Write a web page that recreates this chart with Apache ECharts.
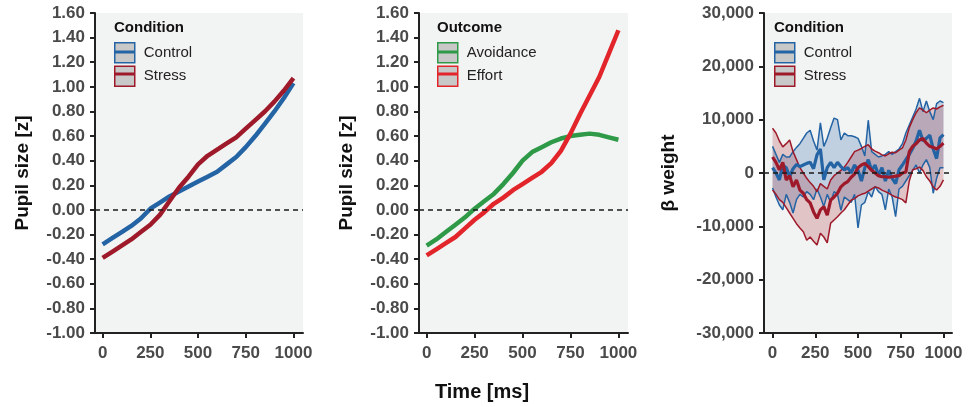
<!DOCTYPE html>
<html>
<head>
<meta charset="utf-8">
<script src="https://cdn.jsdelivr.net/npm/echarts@6/dist/echarts.min.js"></script>
<style>
  html, body { margin: 0; padding: 0; background: #fff; }
  #chart { width: 971px; height: 407px; }
</style>
</head>
<body>
<div id="chart"></div>
<script>
// 瞳孔数据（每 50 ms 一个点）
const timePupil = [0, 50, 100, 150, 200, 250, 300, 350, 400, 450, 500, 550, 600, 650, 700, 750, 800, 850, 900, 950, 1000];
const controlPupil = [-0.28, -0.23, -0.18, -0.13, -0.07, 0.01, 0.06, 0.11, 0.15, 0.19, 0.23, 0.27, 0.31, 0.37, 0.43, 0.51, 0.60, 0.70, 0.80, 0.91, 1.03];
const stressPupil = [-0.39, -0.34, -0.29, -0.24, -0.18, -0.12, -0.04, 0.07, 0.18, 0.27, 0.37, 0.44, 0.49, 0.54, 0.59, 0.66, 0.73, 0.80, 0.88, 0.97, 1.07];
const avoidancePupil = [-0.29, -0.24, -0.18, -0.12, -0.06, 0.01, 0.07, 0.13, 0.21, 0.30, 0.40, 0.47, 0.51, 0.55, 0.58, 0.60, 0.61, 0.62, 0.61, 0.59, 0.57];
const effortPupil = [-0.37, -0.32, -0.27, -0.22, -0.15, -0.08, -0.02, 0.05, 0.10, 0.16, 0.21, 0.26, 0.31, 0.38, 0.48, 0.62, 0.78, 0.93, 1.08, 1.27, 1.46];

// β 权重数据（每 20 ms 一个点）
const timeBeta = [0, 20, 40, 60, 80, 100, 120, 140, 160, 180, 200, 220, 240, 260, 280, 300, 320, 340, 360, 380,
  400, 420, 440, 460, 480, 500, 520, 540, 560, 580, 600, 620, 640, 660, 680, 700, 720, 740, 760, 780,
  800, 820, 840, 860, 880, 900, 920, 940, 960, 980, 1000];
const controlBeta = [1000, 0, -1300, 1500, 1000, -700, 800, 1600, 1200, 1500,
  1800, 2000, 800, 3400, 4500, -1300, 1000, 2000, 1000, 2000,
  1200, 600, 1000, 0, 1500, 500, -1500, 1000, 2500, 500,
  1500, -500, 1000, -1500, 500, -1000, -2000, 600, 1500, 2500,
  3500, 4600, 6000, 8000, 6000, 6500, 7100, 4500, 2700, 6600, 7200];
const controlBetaHi = [5000, 3500, 2000, 3500, 3000, 3000, 4000, 4800, 5500, 6500,
  7500, 8000, 6000, 4300, 9400, 5000, 6500, 8500, 10300, 10000,
  6200, 7500, 7000, 7000, 6800, 6500, 5000, 3200, 9900, 4000,
  3500, 3000, 3200, 3500, 4000, 3500, 4000, 4500, 5500, 7500,
  9000, 10500, 12000, 14000, 11500, 13500, 11500, 10000, 13000, 13500, 13200];
const controlBetaLo = [-2800, -4500, -6000, -6900, -4000, -5500, -7500, -5000, -4000, -4500,
  -3500, -4000, -5000, -3000, -4500, -6300, -4000, -5500, -3500, -4000,
  -7000, -4500, -5000, -5500, -4000, -10300, -6000, -5500, -3500, -4500,
  -2500, -3500, -4000, -6900, -3000, -4500, -8200, -3000, -2500, -1500,
  -500, 500, 1500, 0, 1500, 2500, 1000, -3800, -1000, 1000, 1000];
const stressBeta = [3000, 2000, 600, 2000, -1300, -500, -2600, -1300, -3200, -3800,
  -5000, -5600, -7300, -8500, -6900, -6300, -7900, -5100, -4500, -3800,
  -2600, -2000, -1600, -800, -200, 1000, 1500, 1800, 1200, 500,
  0, -500, -700, -700, -800, -700, -600, -500, 0, 200,
  4000, 5000, 5500, 6200, 6500, 5600, 5000, 4800, 4500, 5000, 5600];
const stressBetaHi = [8400, 7500, 6000, 4900, 5500, 6200, 4000, 2500, 1000, 0,
  -1000, -1800, -2500, -3500, -2000, -2500, -3000, -1300, -500, 0,
  500, 1100, 2000, 3000, 4000, 4300, 4600, 5000, 5300, 4500,
  4100, 3800, 3400, 3200, 3600, 3900, 3800, 4300, 4700, 6200,
  8500, 10000, 11300, 12200, 11800, 11300, 11800, 12200, 12000, 12400, 12700];
const stressBetaLo = [-3200, -4000, -5000, -5500, -6500, -7500, -8500, -9500, -10300, -11000,
  -12600, -12000, -12800, -13500, -11300, -12000, -13100, -9400, -8800, -8200,
  -7500, -6900, -6000, -5100, -4800, -4300, -4000, -3800, -3400, -3000,
  -2600, -2800, -3200, -3500, -3800, -4200, -4500, -4700, -5000, -5600,
  -1500, 600, 800, 1100, 500, -700, -1500, -2600, -3200, -2500, -1300];

// 坐标轴刻度
const timeTicks = [0, 250, 500, 750, 1000];

const BLUE = '#2464a4';
const DARK_RED = '#9e1a2a';
const GREEN = '#2e9a48';
const RED = '#e2252b';
const FONT = '"Liberation Sans", Arial, sans-serif';

// 图例（方框 + 中间色条）的位置
const LEG_TOP = 42;
const LEG_ROW = 22;
const LEG_BOX = 20;
const panels = [
  { left: 95, width: 208, xMin: -40, xMax: 1050, yName: 'Pupil size [z]', nameGap: 63, legendLeft: 114, title: 'Condition' },
  { left: 419, width: 209, xMin: -40, xMax: 1050, yName: 'Pupil size [z]', nameGap: 63, legendLeft: 437, title: 'Outcome' },
  { left: 764, width: 188, xMin: -50, xMax: 1050, yName: 'β weight', nameGap: 86, legendLeft: 774, title: 'Condition' }
];

// 数据点顺序为 [y, x]，让堆叠作用在 y 维度上
function pairs(xs, ys) {
  return xs.map((x, i) => [ys[i], x]);
}

function zeroLine() {
  return {
    silent: true,
    symbol: 'none',
    label: { show: false },
    lineStyle: { type: [5, 4], color: '#1a1a1a', width: 1.6 },
    data: [{ yAxis: 0 }]
  };
}

function meanLine(name, idx, xs, ys, color, width, withZero) {
  const s = {
    type: 'line', name: name, xAxisIndex: idx, yAxisIndex: idx,
    data: pairs(xs, ys), encode: { x: 1, y: 0 }, symbol: 'none', showSymbol: false,
    lineStyle: { width: width, color: color }, itemStyle: { color: color }
  };
  if (withZero) s.markLine = zeroLine();
  return s;
}

// 置信带：下界 + (上界 - 下界) 堆叠
function band(name, idx, lo, hi, color, fill, stack) {
  const diff = hi.map((v, i) => v - lo[i]);
  const base = {
    type: 'line', name: name, xAxisIndex: idx, yAxisIndex: idx, stack: stack, stackStrategy: 'all',
    encode: { x: 1, y: 0 }, symbol: 'none', showSymbol: false,
    lineStyle: { width: 1.5, color: color }, itemStyle: { color: color }
  };
  return [
    Object.assign({}, base, { data: pairs(timeBeta, lo) }),
    Object.assign({}, base, { data: pairs(timeBeta, diff), areaStyle: { color: fill, opacity: 1 } })
  ];
}

function legendFor(p, names, colors) {
  return {
    orient: 'vertical', left: p.legendLeft, top: LEG_TOP, padding: 0,
    itemWidth: LEG_BOX, itemHeight: LEG_BOX, itemGap: LEG_ROW - LEG_BOX,
    icon: 'rect', selectedMode: false,
    textStyle: { fontSize: 15, color: '#222', fontFamily: FONT, padding: [0, 0, 0, 4] },
    data: names.map((n, i) => ({
      name: n,
      itemStyle: { color: '#c8c8c8', borderColor: colors[i], borderWidth: 1.5 }
    }))
  };
}

function legendBars(p, colors) {
  return colors.map((c, i) => ({
    type: 'rect', silent: true, z: 100,
    shape: { x: p.legendLeft, y: LEG_TOP + i * LEG_ROW + LEG_BOX / 2 - 1.5, width: LEG_BOX, height: 3 },
    style: { fill: c }
  }));
}

const axisLineStyle = { show: true, onZero: false, lineStyle: { color: '#222', width: 2 } };
const axisTickStyle = { show: true, length: 5, lineStyle: { color: '#222', width: 2 } };
const labelStyle = { fontSize: 17, fontWeight: 'bold', color: '#4a4a4a', fontFamily: FONT };

const grids = panels.map(p => ({
  left: p.left, top: 13, width: p.width, height: 320,
  show: true, backgroundColor: '#f2f4f3', borderWidth: 0,
  containLabel: false, outerBoundsMode: 'none'
}));

const xAxes = panels.map((p, i) => ({
  type: 'value', gridIndex: i, min: p.xMin, max: p.xMax,
  axisLine: axisLineStyle,
  axisTick: Object.assign({}, axisTickStyle, { customValues: timeTicks }),
  axisLabel: Object.assign({}, labelStyle, { margin: 12, customValues: timeTicks, formatter: v => String(v) }),
  splitLine: { show: false }
}));

const yAxes = panels.map((p, i) => {
  const isBeta = i === 2;
  return {
    type: 'value', gridIndex: i,
    min: isBeta ? -30000 : -1, max: isBeta ? 30000 : 1.6, interval: isBeta ? 10000 : 0.2,
    name: p.yName, nameLocation: 'middle', nameGap: p.nameGap,
    nameTextStyle: { fontSize: 19, fontWeight: 'bold', color: '#111', fontFamily: FONT },
    axisLine: axisLineStyle,
    axisTick: axisTickStyle,
    axisLabel: Object.assign({}, labelStyle, {
      margin: 10,
      formatter: isBeta ? (v => v.toLocaleString('en-US')) : (v => v.toFixed(2))
    }),
    splitLine: { show: false }
  };
});

const series = [
  meanLine('Control', 0, timePupil, controlPupil, BLUE, 4.5, true),
  meanLine('Stress', 0, timePupil, stressPupil, DARK_RED, 4.5, false),
  meanLine('Avoidance', 1, timePupil, avoidancePupil, GREEN, 4.5, true),
  meanLine('Effort', 1, timePupil, effortPupil, RED, 4.5, false),
  ...band('Control', 2, controlBetaLo, controlBetaHi, BLUE, 'rgba(42,101,166,0.25)', 'cb'),
  ...band('Stress', 2, stressBetaLo, stressBetaHi, DARK_RED, 'rgba(160,28,43,0.22)', 'sb'),
  meanLine('Control', 2, timeBeta, controlBeta, BLUE, 3.2, true),
  meanLine('Stress', 2, timeBeta, stressBeta, DARK_RED, 3.2, false)
];

const titles = panels.map(p => ({
  text: p.title, left: p.legendLeft, top: 20, padding: 0,
  textStyle: { fontSize: 15, fontWeight: 'bold', color: '#111', fontFamily: FONT }
}));

const chart = echarts.init(document.getElementById('chart'), null, { renderer: 'canvas' });
chart.setOption({
  animation: false,
  backgroundColor: '#fff',
  textStyle: { fontFamily: FONT },
  title: titles,
  grid: grids,
  xAxis: xAxes,
  yAxis: yAxes,
  legend: [
    legendFor(panels[0], ['Control', 'Stress'], [BLUE, DARK_RED]),
    legendFor(panels[1], ['Avoidance', 'Effort'], [GREEN, RED]),
    legendFor(panels[2], ['Control', 'Stress'], [BLUE, DARK_RED])
  ],
  graphic: [
    ...legendBars(panels[0], [BLUE, DARK_RED]),
    ...legendBars(panels[1], [GREEN, RED]),
    ...legendBars(panels[2], [BLUE, DARK_RED]),
    {
      type: 'text', silent: true,
      style: { text: 'Time [ms]', x: 482, y: 392, align: 'center', verticalAlign: 'middle',
        font: 'bold 20px ' + FONT, fill: '#111' }
    }
  ],
  series: series
});
</script>
</body>
</html>
